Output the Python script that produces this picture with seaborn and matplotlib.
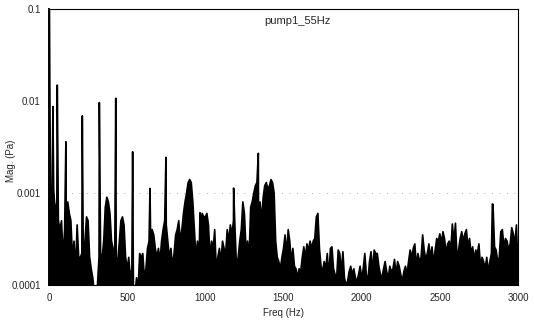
import numpy as np
import pandas as pd
import seaborn as sns
import matplotlib
matplotlib.use("Agg")
import matplotlib.pyplot as plt

# magnitude, in units of 1e-4 Pa, one value every 10 Hz (0..2990) + 3000
base_start = 0
base_step = 10
base_mag_1e4 = [
    12, 10, 9, 11, 6, 8, 5, 4, 5, 2,            # 0-90
    4, 7, 8, 6, 5, 2, 3, 1.5, 4.5, 2,           # 100
    2, 2.2, 1.5, 3, 5.5, 5, 2, 1.5, 1.2, 0.8,   # 200
    0.6, 1, 2, 2.2, 2, 3, 7, 9, 8, 6,           # 300
    3, 2.5, 1.5, 2, 1.8, 3, 5, 5.5, 4.5, 2,     # 400
    1.5, 2, 1.2, 1.5, 1, 0.8, 1.2, 0.9, 2.2, 2, # 500
    2.2, 1.2, 1.5, 2.5, 3, 3.5, 4, 3.5, 2.5, 2, # 600
    2.5, 1.8, 3, 4, 5, 4.5, 3, 2, 2.5, 1.6,     # 700
    2.2, 3.5, 4, 5, 3, 4, 6, 8, 10, 13,         # 800
    14, 13, 8, 4, 2, 3, 2, 5, 6, 5.5,           # 900
    5.5, 6, 4.5, 2, 3, 2.5, 4, 1.5, 2, 2.5,     # 1000
    1.8, 3, 2.5, 2.2, 4, 3, 4.5, 3.5, 5, 4,     # 1100
    1.5, 2, 3, 4, 8, 6, 2.5, 3, 2, 7,           # 1200
    8, 10, 12, 13, 6, 8, 5, 9, 12, 13,          # 1300
    11, 12, 14, 13, 10, 3, 2, 1.8, 1.5, 2,      # 1400
    2.5, 3.5, 2.2, 4, 3, 1.8, 2.5, 1.6, 1.5, 1.2,   # 1500
    1.5, 1.4, 2, 2.6, 2, 2.8, 2.4, 3, 2.5, 3,       # 1600
    3.2, 5.5, 6, 2.5, 1.6, 1.4, 1.8, 1.5, 2.2, 1.2, # 1700
    2.5, 2.6, 1.5, 1.3, 1.2, 2.4, 2.2, 1.4, 2.3, 1.2,   # 1800
    1.0, 1.1, 1.4, 1.6, 1.3, 1.5, 1.2, 1.1, 1.3, 1.6,   # 1900
    1.2, 1.5, 2.2, 1.3, 1.1, 1.8, 2.3, 1.4, 2.4, 2.2,   # 2000
    2.2, 1.6, 1.3, 1.2, 1.5, 1.8, 1.4, 1.2, 1.6, 1.4,   # 2100
    1.5, 1.9, 1.3, 1.8, 1.6, 1.3, 1.1, 1.4, 1.6, 1.3,   # 2200
    1.8, 2.4, 2.0, 2.5, 2.8, 1.6, 2.2, 1.8, 2.0, 3.5,   # 2300
    2.4, 1.9, 2.2, 2.8, 2.0, 2.6, 1.7, 2.4, 3.2, 3.0,   # 2400
    3.6, 2.8, 3.8, 3.2, 2.2, 2.8, 3.0, 2.4, 4.6, 3.0,   # 2500
    4.7, 2.0, 2.4, 3.2, 3.8, 3.0, 3.6, 4.0, 2.6, 3.2,   # 2600
    2.2, 2.6, 1.9, 2.4, 2.2, 2.8, 1.6, 2.0, 1.8, 1.5,   # 2700
    2.0, 1.4, 1.8, 2.2, 7.5, 2.6, 2.4, 1.8, 2.0, 3.8,   # 2800
    4.0, 2.6, 3.2, 3.0, 2.4, 2.8, 4.2, 3.6, 2.8, 4.5,   # 2900
    1.5,                                                # 3000
]

# narrow spikes (pump harmonics etc.)
peak_freq = [2, 25, 53, 108, 213, 322, 427, 535, 646, 748, 966, 1181, 1339, 2836]
peak_mag_1e4 = [1000, 87, 149, 36, 69, 96, 107, 28, 11.2, 24.4, 6.1, 11.3, 27, 7.6]

y_ticks = [0.0001, 0.001, 0.01, 0.1]
y_labels = ["0.0001", "0.001", "0.01", "0.1"]
x_ticks = [0, 500, 1000, 1500, 2000, 2500, 3000]

base_freq = [base_start + i * base_step for i in range(len(base_mag_1e4))]
df = pd.DataFrame({"freq": base_freq + peak_freq,
                   "mag": [m * 1e-4 for m in base_mag_1e4 + peak_mag_1e4]})
df = df.sort_values("freq").reset_index(drop=True)

sns.set_style("white")
plt.rcParams["font.family"] = ["Liberation Sans", "DejaVu Sans"]

fig = plt.figure(figsize=(5.34, 3.21), dpi=100)
ax = fig.add_axes([49 / 534, 1 - 285 / 321, 469 / 534, 276 / 321])

ax.fill_between(df["freq"], 1e-5, df["mag"], color="black", lw=0)
sns.lineplot(data=df, x="freq", y="mag", ax=ax, color="black", lw=1.2)

ax.set_yscale("log")
ax.set_ylim(1e-4, 0.1)
ax.set_xlim(0, 3000)
ax.set_yticks(y_ticks)
ax.set_yticklabels(y_labels)
ax.set_xticks(x_ticks)
ax.minorticks_off()
ax.tick_params(labelsize=7, length=0, pad=6)
ax.axhline(0.001, color="#999999", lw=0.6, ls=(0, (1, 8)), zorder=0)

for s in ax.spines.values():
    s.set_color("black")
    s.set_linewidth(0.8)
ax.spines["left"].set_linewidth(1.4)

ax.set_xlabel("Freq (Hz)", fontsize=7, labelpad=3)
ax.set_ylabel("Mag. (Pa)", fontsize=7)
ax.yaxis.set_label_coords(-0.07, 0.45)
ax.text(0.53, 0.975, "pump1_55Hz", transform=ax.transAxes, fontsize=8,
        ha="center", va="top")

fig.savefig("out.png", dpi=100)
